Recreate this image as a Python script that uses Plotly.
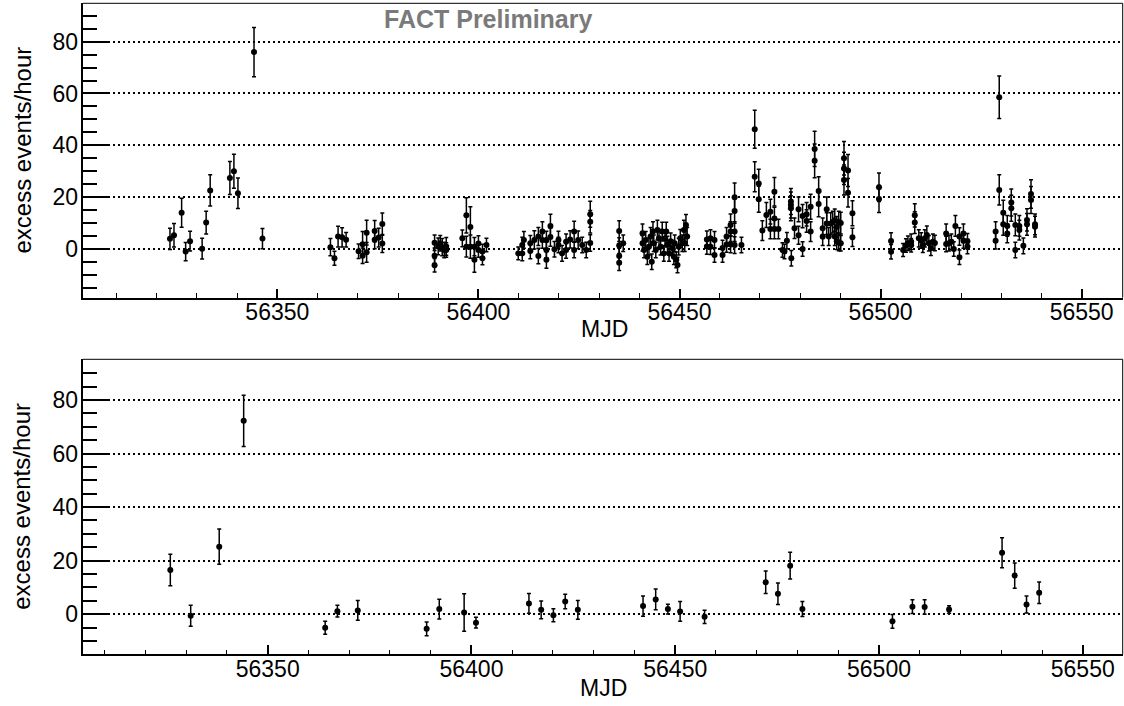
import plotly.graph_objects as go

# ---------------- data: top panel (per-run light curve) ----------------
top_mjd = [
    56323.3, 56324.3, 56326.2, 56327.2, 56328.3, 56331.3, 56332.3, 56333.3, 56338.2, 56339.2, 56340.2, 56344.2, 56346.3,
    56363.2, 56364.2, 56365.1, 56366.1, 56367.1, 56370.2, 56371.2, 56371.2, 56372.2, 56372.2, 56374.2, 56374.2, 56375.2, 56376.1, 56376.1,
    56389.1, 56389.1, 56389.1, 56390.0, 56390.5, 56391.0, 56391.5, 56392.0, 56392.0, 56396.0, 56397.0, 56397.0, 56398.0, 56398.0,
    56399.0, 56399.0, 56400.0, 56400.0, 56401.0, 56401.0, 56402.0,
    56409.9, 56410.9, 56410.9, 56411.3, 56412.9, 56412.9, 56413.9, 56414.9, 56414.9, 56415.9, 56415.9, 56416.9, 56416.9, 56416.9,
    56417.9, 56417.9, 56418.9, 56419.9, 56419.9, 56420.8, 56421.8, 56421.8, 56422.8, 56423.8, 56423.8, 56424.8, 56425.8, 56426.8,
    56427.8, 56427.8, 56427.8,
    56435.0, 56435.0, 56435.0, 56435.0, 56436.0,
    56440.8, 56440.8, 56441.2, 56441.6, 56442.0, 56442.4, 56442.8, 56443.1, 56443.4, 56443.6, 56444.1, 56444.5, 56444.9, 56445.3,
    56445.7, 56446.1, 56446.4, 56446.7, 56447.0, 56447.4, 56447.8, 56448.2, 56448.6, 56448.8, 56449.2, 56449.5, 56449.8, 56450.2,
    56450.7, 56451.1, 56451.3, 56451.6, 56451.9,
    56456.8, 56456.8, 56457.7, 56457.7, 56458.7, 56458.7,
    56460.7, 56460.7, 56461.7, 56461.7, 56462.7, 56462.7, 56462.7, 56463.7, 56463.7, 56463.7, 56463.7, 56465.4,
    56468.7, 56468.7, 56469.7, 56469.7, 56470.6, 56471.6, 56472.6, 56472.6, 56473.6, 56473.6, 56473.6, 56474.6, 56475.6, 56476.1,
    56476.7, 56477.7, 56477.7, 56477.7, 56477.8, 56478.6, 56479.6, 56479.6, 56480.6, 56480.6, 56481.6, 56481.6, 56482.6, 56482.6,
    56483.6, 56483.6, 56484.6, 56484.6, 56485.6, 56485.6, 56486.6, 56486.6, 56487.1, 56487.6, 56488.1, 56488.6, 56488.6, 56489.1,
    56489.1, 56489.6, 56489.6, 56490.1, 56490.1, 56490.9, 56490.9, 56490.9, 56491.9, 56491.9, 56493.0, 56493.0,
    56499.6, 56499.6, 56502.6, 56502.6,
    56505.6, 56506.3, 56506.8, 56507.6, 56507.6, 56508.5, 56508.5, 56509.5, 56510.1, 56510.5, 56511.0, 56511.5, 56512.0, 56512.5,
    56513.0, 56513.5, 56516.3, 56516.3, 56517.0, 56517.6, 56518.2, 56518.6, 56519.6, 56519.6, 56520.6, 56520.6, 56521.6, 56521.6,
    56528.6, 56528.6, 56529.5, 56529.5, 56530.5, 56530.5, 56531.5, 56531.5, 56532.5, 56532.5, 56533.5, 56533.5, 56534.5, 56534.5,
    56535.5, 56536.4, 56536.4, 56537.4, 56537.4, 56538.4, 56538.4,
]
top_rate = [
    3.9, 5.3, 14.0, -1.0, 3.0, 0.1, 10.2, 22.6, 27.4, 30.0, 21.5, 76.0, 4.0,
    0.7, -3.6, 4.8, 4.5, 3.6, -0.9, 1.8, -2.6, -1.3, 6.3, 6.9, 3.6, 4.4, 9.6, 2.1,
    -6.3, -2.6, 2.4, 1.0, 2.2, 0.7, -0.4, 1.0, -0.4, 4.1, 13.0, 0.9, 8.5, 0.9,
    -4.2, 0.9, 2.1, -0.4, -1.0, -3.6, 1.5,
    -1.7, -1.7, 1.5, 3.5, -0.8, 2.2, 3.5, -2.7, 4.8, 6.7, 3.5, -0.4, -4.2, 3.5,
    8.9, 4.6, -0.1, 3.5, 1.5, -1.7, -0.4, 2.8, 3.7, 6.7, -0.4, 3.5, 1.5, -0.4,
    10.5, 13.4, 2.3,
    6.9, -2.7, -5.3, 1.3, 2.2,
    6.1, 2.2, -0.4, 3.5, -3.0, 0.9, 4.8, -4.9, 6.7, 2.2, -0.4, 7.3, 4.1, 0.9,
    6.7, -1.7, 4.1, 6.7, 1.7, -1.7, 3.0, 0.4, -3.0, 2.2, -4.2, -6.2, 0.9, 4.1,
    2.2, 7.3, 2.2, 9.3, 4.8,
    3.7, 1.0, 4.1, 0.9, 3.5, -2.3,
    -2.3, 0.4, 4.8, 1.7, 6.7, 9.3, 1.7, 6.7, 14.7, 20.0, 1.5, 1.5,
    46.2, 27.9, 25.3, 19.2, 7.1, 13.1, 14.4, 7.7, 22.1, 11.8, 7.7, 7.7, -0.4, -1.0,
    3.2, 18.3, 17.0, 15.7, -3.6, 8.0, 5.3, 15.3, 0.0, 12.7, 13.4, 10.8, 16.3, 6.7,
    38.6, 34.0, 22.4, 17.4, 4.8, 8.0, 15.3, 9.8, 4.8, 9.8, 10.4, 11.1, 4.8, 8.5,
    3.0, 10.4, 2.5, 10.0, 2.2, 35.0, 31.1, 26.6, 30.3, 21.7, 13.8, 4.5,
    23.8, 19.3, 3.1, -1.1,
    -0.4, 1.3, 2.2, 2.8, 1.4, 13.0, 10.2, 4.1, 3.3, 1.4, 4.1, 5.4, 2.2, 0.3,
    2.8, 2.3, 6.0, 1.9, 2.2, 2.8, 0.0, 8.9, 4.8, -3.2, 6.0, 3.3, 3.0, 1.0,
    6.7, 3.2, 58.5, 22.8, 14.0, 9.5, 8.9, 6.0, 17.9, 15.7, 9.3, -0.4, 8.9, 7.3,
    1.2, 11.2, 9.5, 21.2, 18.9, 9.5, 8.6,
]
top_err = [
    4.1, 4.5, 5.6, 3.5, 3.8, 4.0, 4.4, 6.0, 6.4, 6.6, 5.9, 9.5, 3.9,
    3.3, 2.7, 4.0, 3.7, 2.8, 2.8, 4.9, 3.0, 3.8, 4.8, 4.1, 3.5, 3.6, 4.3, 3.5,
    2.6, 3.0, 3.0, 3.2, 3.0, 3.3, 3.0, 3.4, 2.8, 3.2, 6.8, 4.0, 7.8, 4.5,
    4.8, 3.5, 3.0, 2.8, 2.8, 2.5, 2.6,
    2.5, 2.8, 3.0, 3.2, 3.0, 3.0, 3.5, 3.0, 3.5, 3.8, 3.2, 3.0, 3.2, 3.3,
    4.5, 3.5, 3.0, 3.3, 3.0, 3.0, 3.2, 3.0, 3.3, 4.0, 3.0, 3.4, 3.0, 3.0,
    4.3, 5.0, 3.2,
    4.0, 3.0, 3.0, 3.0, 3.2,
    3.5, 3.0, 3.0, 3.2, 3.0, 3.2, 3.5, 3.0, 3.8, 3.2, 3.0, 3.8, 3.4, 3.2,
    3.6, 3.0, 3.3, 3.6, 3.2, 3.0, 3.2, 3.0, 3.0, 3.2, 3.0, 3.0, 3.2, 3.4,
    3.2, 3.8, 3.2, 4.0, 3.5,
    3.2, 3.0, 3.3, 3.0, 3.2, 2.8,
    2.8, 3.0, 3.5, 3.0, 3.8, 4.2, 3.2, 3.8, 4.8, 5.5, 3.2, 3.0,
    7.3, 5.8, 5.5, 5.0, 3.8, 4.8, 4.8, 3.8, 5.5, 4.3, 3.8, 3.8, 2.8, 2.8,
    3.2, 5.0, 5.0, 4.8, 3.0, 4.0, 3.5, 4.8, 2.8, 4.5, 4.5, 4.3, 4.8, 3.8,
    6.8, 6.5, 5.5, 5.0, 3.5, 4.0, 4.8, 4.2, 3.5, 4.2, 4.2, 4.3, 3.5, 4.0,
    3.2, 4.2, 3.2, 4.2, 3.0, 6.5, 6.2, 5.8, 6.2, 5.5, 4.8, 3.5,
    5.5, 5.2, 3.2, 2.8,
    2.5, 2.6, 2.8, 3.0, 2.6, 4.5, 4.2, 3.3, 3.0, 2.8, 3.3, 3.5, 3.0, 2.8,
    3.0, 3.0, 3.6, 3.0, 3.0, 3.0, 2.8, 4.0, 3.4, 2.8, 3.6, 3.0, 3.0, 2.8,
    3.8, 3.2, 8.2, 5.8, 4.8, 4.2, 4.0, 3.6, 5.2, 5.0, 4.2, 3.0, 4.0, 3.8,
    3.0, 4.3, 4.2, 5.5, 5.2, 4.0, 4.0,
]

# ---------------- data: bottom panel (nightly light curve) ----------------
bot_mjd = [56326.1, 56331.1, 56338.1, 56344.1, 56364.1, 56367.1, 56372.1, 56389.0, 56392.1, 56398.2, 56401.1,
           56414.1, 56417.1, 56420.1, 56423.0, 56426.1, 56442.1, 56445.2, 56448.2, 56451.2, 56457.2,
           56472.2, 56475.2, 56478.2, 56481.2, 56503.3, 56508.2, 56511.2, 56517.2, 56530.2, 56533.3, 56536.2, 56539.3]
bot_rate = [16.5, -0.6, 25.2, 72.2, -5.1, 1.1, 1.4, -5.5, 1.9, 0.6, -3.2,
            4.0, 1.6, -0.4, 4.7, 1.6, 3.0, 5.5, 1.9, 1.0, -1.0,
            11.9, 7.6, 18.1, 1.9, -2.7, 2.8, 2.7, 1.7, 22.9, 14.4, 3.6, 8.0]
bot_err = [5.9, 3.9, 6.6, 9.6, 2.4, 2.2, 3.7, 2.6, 3.7, 7.0, 2.0,
           3.7, 3.3, 2.4, 2.7, 3.5, 3.8, 3.9, 1.8, 3.7, 2.5,
           4.2, 4.0, 5.0, 2.8, 2.6, 2.6, 2.7, 1.4, 5.6, 4.7, 3.2, 4.0]

top_xrange = [56301.6, 56560.2]
top_yrange = [-18.8, 94.8]
bot_xrange = [56304.6, 56559.8]
bot_yrange = [-15.0, 95.2]

W, H = 1124, 706
FONT = "Liberation Sans, Arial, Helvetica, sans-serif"

def px_x(p):
    return p / W

def px_y(p):
    return 1 - p / H

fig = go.Figure()

marker = dict(color="black", size=6, symbol="circle")
err_style = dict(type="data", color="black", thickness=1.5, width=2, visible=True)

fig.add_trace(go.Scatter(x=top_mjd, y=top_rate, mode="markers", marker=marker,
                         error_y=dict(array=top_err, **err_style),
                         xaxis="x", yaxis="y", showlegend=False, hoverinfo="x+y"))
fig.add_trace(go.Scatter(x=bot_mjd, y=bot_rate, mode="markers", marker=marker,
                         error_y=dict(array=bot_err, **err_style),
                         xaxis="x2", yaxis="y2", showlegend=False, hoverinfo="x+y"))

xdom = [px_x(82.7), px_x(1122.7)]
top_dom = [px_y(297.7), px_y(3.3)]
bot_dom = [px_y(654.3), px_y(359.3)]

def xaxis_cfg(rng, anchor):
    return dict(domain=xdom, range=rng, anchor=anchor, showgrid=False, zeroline=False,
                showline=True, linewidth=2, linecolor="black", mirror=False,
                ticks="inside", ticklen=9, tickwidth=1.5, tickcolor="black",
                dtick=50, tick0=56300, ticklabelstandoff=-7,
                minor=dict(ticks="inside", dtick=10, tick0=56300, ticklen=4.5, tickwidth=1.3,
                           tickcolor="black", showgrid=False),
                tickfont=dict(family=FONT, size=23, color="black"),
                separatethousands=False, tickformat="d")

def yaxis_cfg(rng, dom, anchor):
    return dict(domain=dom, range=rng, anchor=anchor, zeroline=False,
                showgrid=True, gridcolor="black", gridwidth=1.5, griddash="2px,3px",
                showline=True, linewidth=2, linecolor="black", mirror=False,
                ticks="inside", ticklen=27, tickwidth=2, tickcolor="black",
                dtick=20, tick0=0, ticklabelstandoff=-2,
                minor=dict(ticks="inside", dtick=5, tick0=0, ticklen=14, tickwidth=1.5,
                           tickcolor="black", showgrid=False),
                tickfont=dict(family=FONT, size=23, color="black"))

fig.update_layout(
    width=W, height=H,
    margin=dict(l=0, r=0, t=0, b=0),
    paper_bgcolor="white", plot_bgcolor="white",
    xaxis=xaxis_cfg(top_xrange, "y"),
    yaxis=yaxis_cfg(top_yrange, top_dom, "x"),
    xaxis2=xaxis_cfg(bot_xrange, "y2"),
    yaxis2=yaxis_cfg(bot_yrange, bot_dom, "x2"),
    showlegend=False,
)

# thin top/right frame lines
for xr, yr in (("x domain", "y domain"), ("x2 domain", "y2 domain")):
    fig.add_shape(type="line", xref=xr, yref=yr, x0=0, x1=1, y0=1, y1=1,
                  line=dict(color="black", width=1))
    fig.add_shape(type="line", xref=xr, yref=yr, x0=1, x1=1, y0=0, y1=1,
                  line=dict(color="black", width=1))

ann = []
# y titles
ann.append(dict(text="excess events/hour", x=px_x(22), y=px_y(150.5), xref="paper", yref="paper",
                textangle=-90, showarrow=False, xanchor="center", yanchor="middle",
                font=dict(family=FONT, size=24, color="black")))
ann.append(dict(text="excess events/hour", x=px_x(22), y=px_y(506.8), xref="paper", yref="paper",
                textangle=-90, showarrow=False, xanchor="center", yanchor="middle",
                font=dict(family=FONT, size=24, color="black")))
# x titles
ann.append(dict(text="MJD", x=px_x(604), y=px_y(329), xref="paper", yref="paper",
                showarrow=False, xanchor="center", yanchor="middle",
                font=dict(family=FONT, size=23, color="black")))
ann.append(dict(text="MJD", x=px_x(603), y=px_y(688), xref="paper", yref="paper",
                showarrow=False, xanchor="center", yanchor="middle",
                font=dict(family=FONT, size=23, color="black")))
# watermark
ann.append(dict(text="<b>FACT Preliminary</b>", x=px_x(488), y=px_y(19), xref="paper", yref="paper",
                showarrow=False, xanchor="center", yanchor="middle",
                font=dict(family=FONT, size=25, color="#7a7a7a")))
fig.update_layout(annotations=ann)

fig.write_html("out.html", config={"displayModeBar": False},
               post_script="document.body.style.margin='0';document.body.style.overflow='hidden';")
